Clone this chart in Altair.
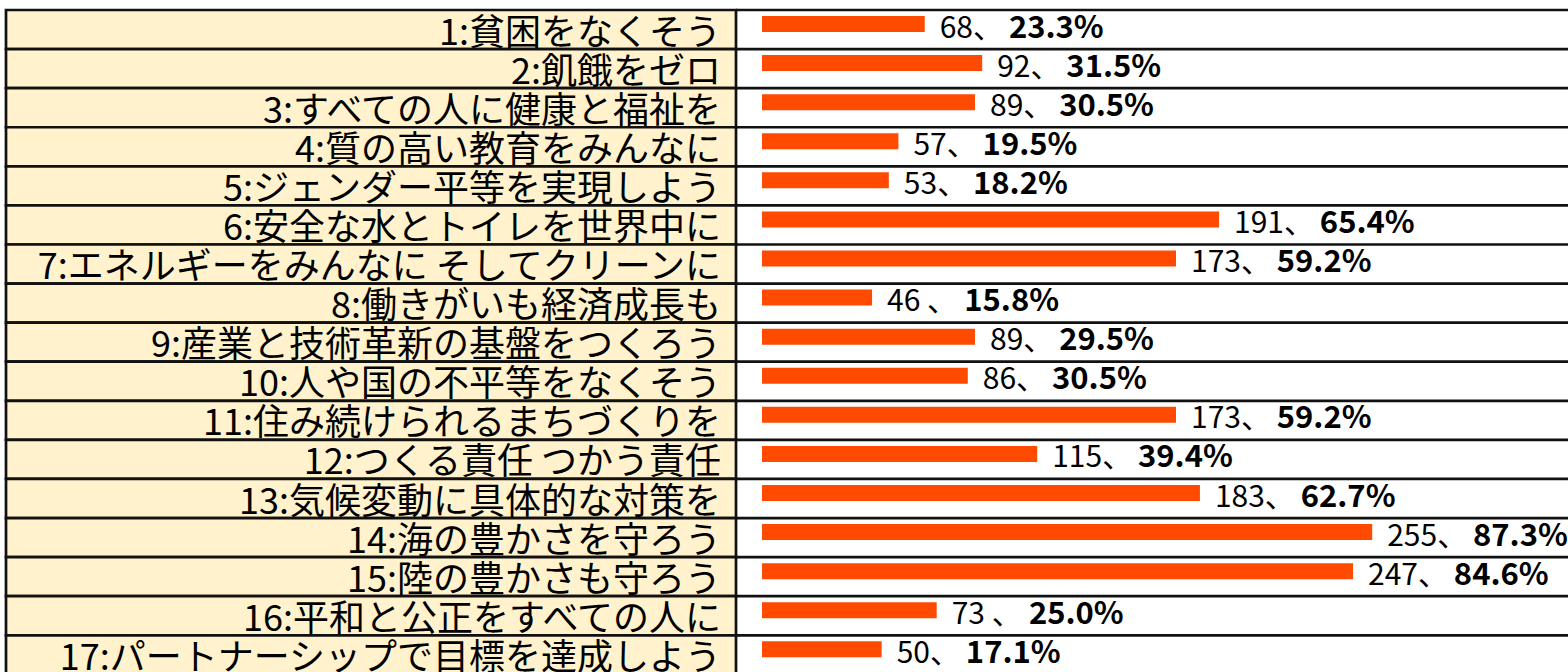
import altair as alt
import pandas as pd

labels = ["1:貧困をなくそう", "2:飢餓をゼロ", "3:すべての人に健康と福祉を", "4:質の高い教育をみんなに",
          "5:ジェンダー平等を実現しよう", "6:安全な水とトイレを世界中に", "7:エネルギーをみんなに そしてクリーンに",
          "8:働きがいも経済成長も", "9:産業と技術革新の基盤をつくろう", "10:人や国の不平等をなくそう",
          "11:住み続けられるまちづくりを", "12:つくる責任 つかう責任", "13:気候変動に具体的な対策を",
          "14:海の豊かさを守ろう", "15:陸の豊かさも守ろう", "16:平和と公正をすべての人に",
          "17:パートナーシップで目標を達成しよう"]
counts = [68, 92, 89, 57, 53, 191, 173, 46, 89, 86, 173, 115, 183, 255, 247, 73, 50]
pcts = ["23.3%", "31.5%", "30.5%", "19.5%", "18.2%", "65.4%", "59.2%", "15.8%", "29.5%",
        "30.5%", "59.2%", "39.4%", "62.7%", "87.3%", "84.6%", "25.0%", "17.1%"]
seps = ["、", "、", "、", "、", "、", "、", "、", " 、", "、", "、", "、", "、", "、", "、", "、", " 、", "、"]

df = pd.DataFrame({"label": labels, "count": counts, "pct": pcts, "sep": seps})
df["prefix"] = df["count"].astype(str) + df["sep"]

FONT = "Noto Sans CJK JP"
ROW = 39.08
K = 2.393          # px per unit
X0 = 756           # px where value 0 sits
W = 1562
H = 662

yscale = alt.Scale(domain=labels, range=[0, ROW * len(labels)], paddingInner=0, paddingOuter=0)
xscale = alt.Scale(domain=[0, 300], range=[X0, X0 + 300 * K])

base = alt.Chart(df)
Y = alt.Y("label:N", scale=yscale, axis=None)
Ytop = alt.Y("label:N", scale=yscale, axis=None, bandPosition=0)

cells = base.mark_rect(fill="#FFF2CC", stroke="#111111", strokeWidth=2.7).encode(
    x=alt.value(0), x2=alt.value(730), y=Y)

lines = base.mark_rule(color="#111111", strokeWidth=2.7).encode(
    x=alt.value(730), x2=alt.value(W), y=Ytop)

names = base.mark_text(align="right", baseline="alphabetic", dy=15, font=FONT,
                       fontSize=36, color="#000000").encode(
    x=alt.value(715), y=Y, text="label:N")

bars = base.mark_bar(height=16, yOffset=-5.5, color="#FF4A00").encode(
    x=alt.X("count:Q", scale=xscale, axis=None), x2=alt.datum(0), y=Y)

vals = base.mark_text(align="left", baseline="alphabetic", dy=8, dx=15, font=FONT,
                      fontSize=30, color="#000000").encode(
    x=alt.X("count:Q", scale=xscale, axis=None), y=Y, text="prefix:N")

pct = base.transform_calculate(
    xb="datum.count + (15 + 16.6 * length(toString(datum.count)) + 36 + (length(datum.sep) > 1 ? 8 : 0)) / %f" % K
).mark_text(align="left", baseline="alphabetic", dy=8, font=FONT, fontSize=31,
            fontWeight="bold", color="#000000").encode(
    x=alt.X("xb:Q", scale=xscale, axis=None), y=Y, text="pct:N")

chart = alt.layer(cells, lines, names, bars, vals, pct).properties(
    width=W, height=H,
    autosize=alt.AutoSizeParams(type="none"),
    padding={"left": 6, "top": 10, "right": 0, "bottom": 0},
    background="white",
).configure_view(strokeWidth=0)

chart.save("out.html", embed_options={"renderer": "svg", "actions": False})
